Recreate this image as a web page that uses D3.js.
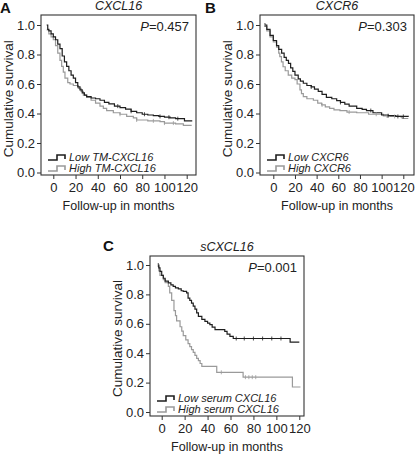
<!DOCTYPE html>
<html>
<head>
<meta charset="utf-8">
<script src="https://cdn.jsdelivr.net/npm/d3@7"></script>
<style>
  html, body { margin: 0; padding: 0; background: #fff; }
  svg { display: block; font-family: "Liberation Sans", Arial, Helvetica, sans-serif; }
</style>
</head>
<body>
<svg id="chart" width="415" height="455"></svg>
<script>
// ---------------- DATA ----------------
const panelLetters = ["A", "B", "C"];
const panelTitles = ["CXCL16", "CXCR6", "sCXCL16"];
const pValues = ["0.457", "0.303", "0.001"];
const legendLow = ["Low TM-CXCL16", "Low CXCR6", "Low serum CXCL16"];
const legendHigh = ["High TM-CXCL16", "High CXCR6", "High serum CXCL16"];
const xTicks = [0, 20, 40, 60, 80, 100, 120];
const yTicks = [0, 0.2, 0.4, 0.6, 0.8, 1.0];
const xTitle = "Follow-up in months";
const yTitle = "Cumulative survival";

// Kaplan-Meier step points [month, survival]
const lowA = [[-6,1.0],[-5,0.97],[-4,0.96],[-2,0.94],[0,0.92],[2,0.90],[4,0.87],[6,0.84],[8,0.79],[10,0.75],[12,0.72],[14,0.69],[16,0.66],[18,0.64],[20,0.61],[22,0.58],[24,0.56],[26,0.54],[28,0.525],[30,0.515],[34,0.505],[38,0.50],[42,0.49],[46,0.475],[50,0.465],[55,0.45],[60,0.44],[65,0.43],[70,0.415],[75,0.405],[80,0.395],[85,0.39],[90,0.385],[95,0.38],[100,0.375],[105,0.37],[110,0.365],[118,0.35],[125,0.35]];
const highA = [[-6,0.966],[-4,0.94],[-2,0.92],[0,0.90],[2,0.86],[4,0.81],[6,0.76],[7.5,0.72],[9,0.68],[10.5,0.64],[13,0.61],[15,0.60],[18,0.59],[22.5,0.57],[25,0.55],[27,0.525],[30,0.51],[34,0.49],[38,0.47],[42,0.45],[45,0.435],[48,0.42],[54,0.405],[60,0.395],[66,0.38],[72,0.37],[75,0.356],[85,0.35],[96,0.345],[100,0.335],[110,0.33],[117,0.32],[124.5,0.32]];
const lowB = [[-7.7,1.0],[-6,0.97],[-3,0.93],[0,0.895],[3,0.86],[5,0.835],[7.7,0.81],[10,0.78],[12,0.76],[14,0.74],[16,0.71],[18,0.685],[20,0.66],[23,0.635],[25,0.62],[27.7,0.605],[31,0.59],[35,0.58],[38,0.565],[41.5,0.55],[45,0.53],[49,0.51],[54,0.50],[58.5,0.487],[62,0.475],[66,0.464],[70,0.45],[77,0.435],[82,0.428],[86,0.42],[92,0.405],[100,0.39],[106,0.385],[113,0.38],[124.6,0.378]];
const highB = [[-7.7,0.99],[-6,0.96],[-3,0.92],[0,0.885],[3,0.85],[5,0.81],[6,0.785],[7.5,0.75],[9,0.717],[11,0.69],[13.8,0.66],[17,0.64],[20,0.63],[22,0.6],[24.6,0.56],[26,0.535],[27.7,0.514],[31,0.50],[37,0.49],[41,0.47],[44.6,0.458],[48,0.445],[52,0.435],[56,0.425],[61.5,0.42],[68,0.41],[77,0.405],[88,0.395],[101.6,0.383],[108,0.38],[118,0.375],[119,0.366],[124.6,0.366]];
const lowC = [[-3,1.0],[-2.5,0.98],[-1.5,0.957],[0,0.93],[1.4,0.91],[3,0.89],[5.8,0.878],[8,0.865],[10,0.855],[12,0.845],[14.5,0.837],[17,0.825],[18.8,0.82],[21.7,0.81],[23,0.775],[24.5,0.76],[26,0.74],[27.5,0.72],[29,0.70],[30.5,0.675],[32,0.65],[35,0.63],[37.7,0.616],[40,0.605],[42,0.594],[44,0.578],[46.5,0.56],[55,0.548],[57,0.53],[59.5,0.514],[62.4,0.50],[112,0.475],[120,0.475]];
const highC = [[-3,0.99],[-2.5,0.96],[-1.5,0.93],[1.4,0.90],[3,0.88],[5.8,0.855],[7,0.81],[8.7,0.76],[10.7,0.69],[12,0.655],[13,0.62],[16,0.58],[17.5,0.55],[18.8,0.52],[21,0.49],[23,0.465],[24.5,0.445],[26,0.425],[27.5,0.405],[29,0.385],[30.5,0.365],[32,0.35],[33.5,0.33],[35,0.31],[48,0.27],[71,0.237],[114,0.17],[121,0.17]];

// Censor marks (months)
const censLowA = [58, 70, 82, 96, 104, 112];
const censHighA = [60, 75, 90, 100, 108];
const censLowB = [-7.7, 35, 62, 90, 106, 115, 120];
const censHighB = [45, 70, 95, 105, 112];
const censLowC = [-3, 65, 72, 80, 88, 96, 104];
const censHighC = [52, 73, 76, 79, 82];

// ---------------- LAYOUT ----------------
const panels = [
  { box: [41, 15, 196, 175], x0: 53.3, x120: 186.7, y1: 25, y0: 172.5, letter: [0, 13], low: lowA, high: highA, cLow: censLowA, cHigh: censHighA },
  { box: [260, 15, 414, 175], x0: 273.3, x120: 403.3, y1: 25, y0: 172.5, letter: [205, 13], low: lowB, high: highB, cLow: censLowB, cHigh: censHighB },
  { box: [150, 256, 304, 416], x0: 161.7, x120: 299.3, y1: 265, y0: 412, letter: [103, 251], low: lowC, high: highC, cLow: censLowC, cHigh: censHighC }
];

const DARK = "#1e1e1e";
const GRAY = "#9a9a9a";
const svg = d3.select("#chart");

function survAt(data, t) {
  let s = data[0][1];
  for (const d of data) { if (d[0] <= t) s = d[1]; }
  return s;
}

panels.forEach((p, i) => {
  const [bx0, by0, bx1, by1] = p.box;
  const x = d3.scaleLinear().domain([0, 120]).range([p.x0, p.x120]);
  const y = d3.scaleLinear().domain([0, 1]).range([p.y0, p.y1]);
  const g = svg.append("g");

  // box
  g.append("rect").attr("x", bx0).attr("y", by0).attr("width", bx1 - bx0).attr("height", by1 - by0)
    .attr("fill", "none").attr("stroke", "#333").attr("stroke-width", 1.1);

  // y axis
  const ya = g.append("g").attr("transform", `translate(${bx0},0)`)
    .call(d3.axisLeft(y).tickValues(yTicks).tickSize(4).tickPadding(2).tickFormat(d3.format(".1f")));
  ya.select(".domain").remove();
  ya.selectAll("line").attr("stroke", "#333");
  ya.selectAll("text").attr("font-size", 13).attr("fill", "#222").attr("font-family", "Liberation Sans, Arial, sans-serif");

  // x axis
  const xa = g.append("g").attr("transform", `translate(0,${by1})`)
    .call(d3.axisBottom(x).tickValues(xTicks).tickSize(4).tickPadding(4));
  xa.select(".domain").remove();
  xa.selectAll("line").attr("stroke", "#333");
  xa.selectAll("text").attr("font-size", 13).attr("fill", "#222").attr("font-family", "Liberation Sans, Arial, sans-serif");

  // axis titles
  g.append("text").attr("x", (bx0 + bx1) / 2).attr("y", by1 + 35)
    .attr("text-anchor", "middle").attr("font-size", 12.5).attr("fill", "#222").text(xTitle);
  g.append("text").attr("transform", `translate(${bx0 - 28},${(p.y0 + p.y1) / 2}) rotate(-90)`)
    .attr("text-anchor", "middle").attr("font-size", 13.5).attr("fill", "#222").text(yTitle);

  // panel title
  g.append("text").attr("x", (bx0 + bx1) / 2).attr("y", by0 - 5)
    .attr("text-anchor", "middle").attr("font-size", 12.5).attr("font-style", "italic").attr("fill", "#222").text(panelTitles[i]);

  // panel letter
  g.append("text").attr("x", p.letter[0]).attr("y", p.letter[1])
    .attr("font-size", 15).attr("font-weight", "bold").attr("fill", "#111").text(panelLetters[i]);

  // P value
  const pt = g.append("text").attr("x", bx1 - 7).attr("y", by0 + 16)
    .attr("text-anchor", "end").attr("font-size", 13).attr("fill", "#222");
  pt.append("tspan").attr("font-style", "italic").text("P");
  pt.append("tspan").text("=" + pValues[i]);

  // curves
  const line = d3.line().x(d => x(d[0])).y(d => y(d[1])).curve(d3.curveStepAfter);
  g.append("path").datum(p.high).attr("d", line).attr("fill", "none").attr("stroke", GRAY).attr("stroke-width", 1.2);
  g.append("path").datum(p.low).attr("d", line).attr("fill", "none").attr("stroke", DARK).attr("stroke-width", 1.2);

  // censor ticks
  g.selectAll(null).data(p.cHigh).enter().append("line")
    .attr("x1", d => x(d)).attr("x2", d => x(d))
    .attr("y1", d => y(survAt(p.high, d)) - 2).attr("y2", d => y(survAt(p.high, d)) + 2)
    .attr("stroke", GRAY).attr("stroke-width", 0.8);
  g.selectAll(null).data(p.cLow).enter().append("line")
    .attr("x1", d => x(d)).attr("x2", d => x(d))
    .attr("y1", d => y(survAt(p.low, d)) - 2).attr("y2", d => y(survAt(p.low, d)) + 2)
    .attr("stroke", DARK).attr("stroke-width", 0.8);

  // legend
  const rows = [
    { label: legendLow[i], color: DARK, base: by1 - 14 },
    { label: legendHigh[i], color: GRAY, base: by1 - 3 }
  ];
  rows.forEach(r => {
    const ix = bx0 + 7, iy = r.base - 3;
    g.append("path")
      .attr("d", `M${ix},${iy + 2}H${ix + 9}V${iy - 3}H${ix + 17}V${iy + 1}`)
      .attr("fill", "none").attr("stroke", r.color).attr("stroke-width", 1.6);
    g.append("text").attr("x", bx0 + 28).attr("y", r.base)
      .attr("font-size", 11).attr("font-style", "italic").attr("fill", "#222").text(r.label);
  });
});
</script>
</body>
</html>
